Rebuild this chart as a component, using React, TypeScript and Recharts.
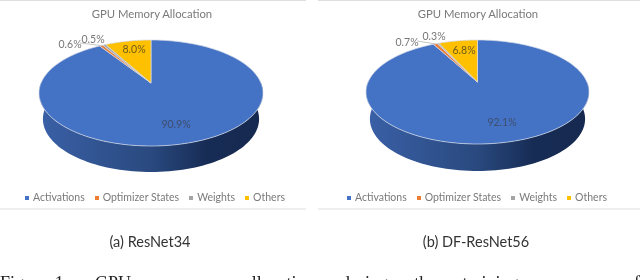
import React from "react";
import { PieChart, Pie, Cell, Legend } from "recharts";

const categories = ["Activations", "Optimizer States", "Weights", "Others"];
const resnetValues = [90.9, 0.6, 0.5, 8.0];
const dfResnetValues = [92.1, 0.7, 0.3, 6.8];
const colors = ["#4472c4", "#ed7d31", "#a5a5a5", "#ffc000"];
const chartTitle = "GPU Memory Allocation";
const captions = ["(a) ResNet34", "(b) DF-ResNet56"];
const figureLine = "Fig. 1: GPU memory allocation during the training process of";

const build = (values: number[]) => categories.map((name, i) => ({ name, value: values[i] }));

const RAD = Math.PI / 180;
const SANS = "Lato, 'Noto Sans', sans-serif";

type View = { id: string; ry: number; lift: number; depth: number };

// Perspective map from the unit circle on to the visible ellipse; apex sits `lift` above the ellipse centre.
function project(theta: number, rx: number, ry: number, lift: number) {
  const u = Math.sin(theta * RAD);
  const v = -Math.cos(theta * RAD);
  const c = -lift;
  const A = 1 - (c * c) / (ry * ry);
  const k = -Math.sqrt(A / ((ry * ry) / (c * c) - 1));
  const a = rx * Math.sqrt(A);
  const b = (k * ry * ry) / c;
  const w = 1 + k * v;
  return { x: (a * u) / w, y: (b * v + c) / w };
}

function makeShape(view: View) {
  return function Shape3D(props: any) {
    const { cx, cy, outerRadius, startAngle, endAngle, fill } = props;
    const rx = outerRadius;
    const ey = cy + view.lift;
    const s = 90 - startAngle;
    const e = 90 - endAngle;
    const top: string[] = [];
    const steps = Math.max(2, Math.ceil((e - s) / 2));
    for (let i = 0; i <= steps; i++) {
      const p = project(s + ((e - s) * i) / steps, rx, view.ry, view.lift);
      top.push(`${(cx + p.x).toFixed(2)},${(ey + p.y).toFixed(2)}`);
    }
    let side = null;
    const sideStart = Math.max(s, 90);
    const sideEnd = Math.min(e, 270);
    if (sideEnd > sideStart) {
      const upper: string[] = [];
      const lower: string[] = [];
      const n = Math.ceil((sideEnd - sideStart) / 2);
      for (let i = 0; i <= n; i++) {
        const p = project(sideStart + ((sideEnd - sideStart) * i) / n, rx, view.ry, view.lift);
        upper.push(`${(cx + p.x).toFixed(2)},${(ey + p.y).toFixed(2)}`);
        lower.unshift(`${(cx + p.x * 0.965).toFixed(2)},${(ey + p.y + view.depth).toFixed(2)}`);
      }
      side = <polygon points={[...upper, ...lower].join(" ")} fill={`url(#${view.id})`} />;
    }
    return (
      <g>
        <defs>
          <linearGradient id={view.id} x1="0" y1="0" x2="1" y2="0">
            <stop offset="0" stopColor="#3a60a6" />
            <stop offset="0.5" stopColor="#29497f" />
            <stop offset="0.75" stopColor="#172c55" />
            <stop offset="1" stopColor="#16294f" />
          </linearGradient>
        </defs>
        {side}
        <path
          d={`M${cx},${cy} L${top.join(" L")} Z`}
          fill={fill}
          stroke="#d5dbe8"
          strokeWidth={0.7}
          strokeLinejoin="round"
        />
      </g>
    );
  };
}

type Spot = { x: number; y: number; leader?: boolean };

function makeLabel(values: number[], spots: Spot[], view: View) {
  return function SliceLabel(props: any) {
    const { index, cx, cy, outerRadius, midAngle } = props;
    const spot = spots[index];
    const p = project(90 - midAngle, outerRadius, view.ry, view.lift);
    return (
      <g>
        {spot.leader ? (
          <line
            x1={spot.x + 10}
            y1={spot.y - 1}
            x2={cx + p.x}
            y2={cy + view.lift + p.y}
            stroke="#b8b8b8"
            strokeWidth={0.8}
          />
        ) : null}
        <text
          x={spot.x}
          y={spot.y}
          textAnchor="middle"
          dominantBaseline="central"
          fontFamily={SANS}
          fontSize={10.5}
          fill={index === 0 ? "#3f4f70" : index === 3 ? "#6b5a1e" : "#777777"}
        >
          {values[index].toFixed(1)}%
        </text>
      </g>
    );
  };
}

type PanelProps = {
  left: number;
  width: number;
  cx: number;
  cy: number;
  rx: number;
  view: View;
  values: number[];
  spots: Spot[];
  titleX: number;
  legendLeft: number;
};

function Panel({ left, width, cx, cy, rx, view, values, spots, titleX, legendLeft }: PanelProps) {
  return (
    <div style={{ position: "absolute", left, top: 0 }}>
      <PieChart width={width} height={210} margin={{ top: 0, right: 0, bottom: 0, left: 0 }}>
        <rect x={-4} y={0.5} width={width + 8} height={208.5} fill="#ffffff" stroke="#dedede" strokeWidth={1} />
        <text
          x={titleX}
          y={13}
          textAnchor="middle"
          dominantBaseline="central"
          fontFamily={SANS}
          fontSize={11.3}
          fill="#7a7a7a"
        >
          {chartTitle}
        </text>
        <Pie
          data={build(values)}
          dataKey="value"
          nameKey="name"
          cx={cx}
          cy={cy}
          outerRadius={rx}
          startAngle={90}
          endAngle={-270}
          stroke="none"
          isAnimationActive={false}
          shape={makeShape(view)}
          label={makeLabel(values, spots, view)}
          labelLine={false}
        >
          {categories.map((c, i) => (
            <Cell key={c} fill={colors[i]} />
          ))}
        </Pie>
        <Legend
          layout="horizontal"
          align="left"
          verticalAlign="bottom"
          iconType="square"
          iconSize={4}
          itemSorter={null}
          wrapperStyle={{
            position: "absolute",
            left: legendLeft,
            top: 191,
            width: "auto",
            fontFamily: SANS,
            fontSize: 10.5,
            whiteSpace: "nowrap",
          }}
          formatter={(v: string) => <span style={{ color: "#7a7a7a" }}>{v}</span>}
        />
      </PieChart>
    </div>
  );
}

const captionStyle: React.CSSProperties = {
  position: "absolute",
  top: 233,
  fontFamily: SANS,
  fontSize: 14.5,
  color: "#333333",
  transform: "translateX(-50%)",
  whiteSpace: "nowrap",
};

export default function App() {
  return (
    <div
      style={{
        position: "absolute",
        left: 0,
        top: 0,
        width: 640,
        height: 280,
        overflow: "hidden",
        background: "#ffffff",
        filter: "blur(0.4px)",
      }}
    >
      <Panel
        left={0}
        width={306}
        cx={151}
        cy={83}
        rx={112}
        view={{ id: "wallA", ry: 53, lift: 10, depth: 26 }}
        values={resnetValues}
        spots={[
          { x: 176, y: 124 },
          { x: 70, y: 44, leader: true },
          { x: 93, y: 39 },
          { x: 134, y: 49 },
        ]}
        titleX={152}
        legendLeft={25}
      />
      <Panel
        left={318}
        width={322}
        cx={159.5}
        cy={82}
        rx={111.5}
        view={{ id: "wallB", ry: 52, lift: 10, depth: 27 }}
        values={dfResnetValues}
        spots={[
          { x: 184, y: 122 },
          { x: 89, y: 42, leader: true },
          { x: 116, y: 36 },
          { x: 146, y: 50 },
        ]}
        titleX={160}
        legendLeft={29}
      />
      <div style={{ ...captionStyle, left: 150 }}>{captions[0]}</div>
      <div style={{ ...captionStyle, left: 476 }}>{captions[1]}</div>
      <div
        style={{
          position: "absolute",
          left: 0,
          top: 273,
          width: 640,
          fontFamily: "'Liberation Serif', serif",
          fontSize: 18,
          lineHeight: "20px",
          color: "#222222",
          textAlign: "justify",
          textAlignLast: "justify",
        }}
      >
        {figureLine}
      </div>
    </div>
  );
}
